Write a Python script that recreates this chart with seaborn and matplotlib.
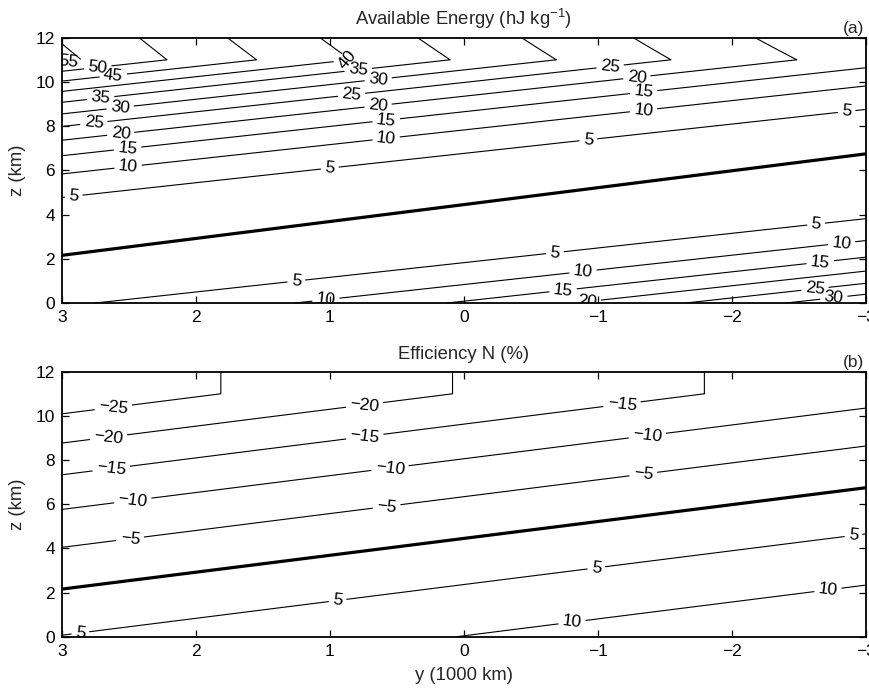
import numpy as np
import matplotlib
matplotlib.use('Agg')
import matplotlib.pyplot as plt
import seaborn as sns

# ---------------- values ----------------
y_ticks = [3, 2, 1, 0, -1, -2, -3]
z_ticks = [0, 2, 4, 6, 8, 10, 12]
energy_levels = [5, 10, 15, 20, 25, 30, 35, 40, 45, 50, 55]
efficiency_levels = [-25, -20, -15, -10, -5, 5, 10]

zero_line_y = [3, -3]            # N = 0 line (thick), y in 1000 km
zero_line_z = [2.155, 6.745]     # height of N = 0 line, km
energy_min_z = [2.27, 6.25]      # height of minimum available energy at y = 3, -3
energy_quad = 0.82               # hJ/kg per km^2
energy_cubic = 0.0095            # hJ/kg per km^3
energy_strat_drop = 1.6          # hJ/kg per km above tropopause
eff_rate = 0.0252                # 1/km (lapse rate / reference temperature)
tropopause_z = 11.0

# label anchor spots (layout only)
energy_label_pos = [(2.91, 4.81), (2.505, 6.17), (2.51, 7.07), (2.56, 7.68), (2.76, 8.13),
                    (2.565, 8.91), (2.71, 9.33), (2.615, 10.27), (2.73, 10.62), (2.95, 10.9),
                    (1.0, 6.17), (0.87, 11.03), (0.79, 10.7), (0.64, 10.24), (0.84, 9.56),
                    (0.64, 9.0), (0.58, 8.36), (0.58, 7.52),
                    (-1.09, 10.85), (-1.29, 10.32), (-1.34, 9.67), (-1.34, 8.81),
                    (-0.93, 7.41), (-2.86, 8.51),
                    (1.25, 1.04), (1.03, 0.24), (-0.68, 2.32), (-0.89, 1.46), (-0.74, 0.67),
                    (-0.92, 0.21), (-2.63, 3.57), (-2.82, 2.7), (-2.66, 1.87), (-2.62, 0.74),
                    (-2.76, 0.36)]
eff_label_pos = [(2.615, 10.41), (2.65, 9.05), (2.63, 7.62), (2.47, 6.19), (2.49, 4.45),
                 (0.94, 1.58), (2.86, 0.15), (0.74, 10.48), (0.74, 9.13), (0.55, 7.62),
                 (0.575, 5.88), (-1.18, 10.56), (-1.37, 9.13), (-1.34, 7.39), (-0.99, 3.1),
                 (-2.91, 4.52), (-2.72, 2.04), (-0.81, 0.6)]

# ---------------- fields on a grid ----------------
yg = np.linspace(-3, 3, 601)
zg = np.linspace(0, 12, 601)
Y, Z = np.meshgrid(yg, zg)
Zt = np.minimum(Z, tropopause_z)


def edge_line(y, vals):
    return vals[0] + (vals[1] - vals[0]) * (3 - y) / 6.0


# available energy
d_e = Zt - edge_line(Y, energy_min_z)
energy = energy_quad * d_e ** 2 - energy_cubic * d_e ** 3
energy = energy - energy_strat_drop * np.clip(Z - tropopause_z, 0, None)

# efficiency
d_n = Zt - edge_line(Y, zero_line_z)
efficiency = -100 * eff_rate * d_n / (1 - eff_rate * d_n)

# ---------------- style ----------------
sns.set_theme(style='ticks')
plt.rcParams['font.family'] = ['Liberation Sans', 'DejaVu Sans']
plt.rcParams['mathtext.default'] = 'regular'
plt.rcParams['axes.unicode_minus'] = True


def fmt(v):
    return f"{v:g}".replace('-', '\u2212')


fig = plt.figure(figsize=(8.69, 6.89), dpi=100)
ax_a = fig.add_axes([0.071, 0.5602, 0.9252, 0.3851])
ax_b = fig.add_axes([0.071, 0.0759, 0.9252, 0.3846])

panels = [
    (ax_a, energy, energy_levels, energy_label_pos,
     'Available Energy (hJ kg$^{\u22121}$)', '(a)'),
    (ax_b, efficiency, efficiency_levels, eff_label_pos,
     'Efficiency N (%)', '(b)'),
]

for ax, field, levels, lpos, title, tag in panels:
    cs = ax.contour(Y, Z, field, levels=levels, colors='black', linewidths=0.8,
                    linestyles='solid')
    texts = ax.clabel(cs, levels, manual=lpos, inline=True, inline_spacing=4,
                      fmt=fmt, fontsize=12.5)
    if ax is ax_a:
        for t in texts:
            if t.get_text() == '40':
                t.set_rotation(50)
    sns.lineplot(x=zero_line_y, y=zero_line_z, ax=ax, color='black', linewidth=2.3)
    ax.set_xlim(3, -3)
    ax.set_ylim(0, 12)
    ax.set_xticks(y_ticks)
    ax.set_yticks(z_ticks)
    ax.set_xticklabels([fmt(v) for v in y_ticks])
    ax.tick_params(direction='in', top=True, right=True, length=5, width=0.9,
                   labelsize=12.5, colors='black', pad=5)
    for sp in ax.spines.values():
        sp.set_visible(True)
        sp.set_linewidth(1.3)
        sp.set_color('black')
    ax.set_ylabel('z (km)', fontsize=13.3, labelpad=7)
    ax.set_title(title, fontsize=13.3, pad=9)
    ax.text(0.998, 1.005, tag, transform=ax.transAxes, ha='right', va='bottom',
            fontsize=12.5)
    ax.set_facecolor('white')

ax_a.set_xlabel('')
ax_b.set_xlabel('y (1000 km)', fontsize=13.3, labelpad=6)

fig.savefig('out.png', dpi=100, facecolor='white')
